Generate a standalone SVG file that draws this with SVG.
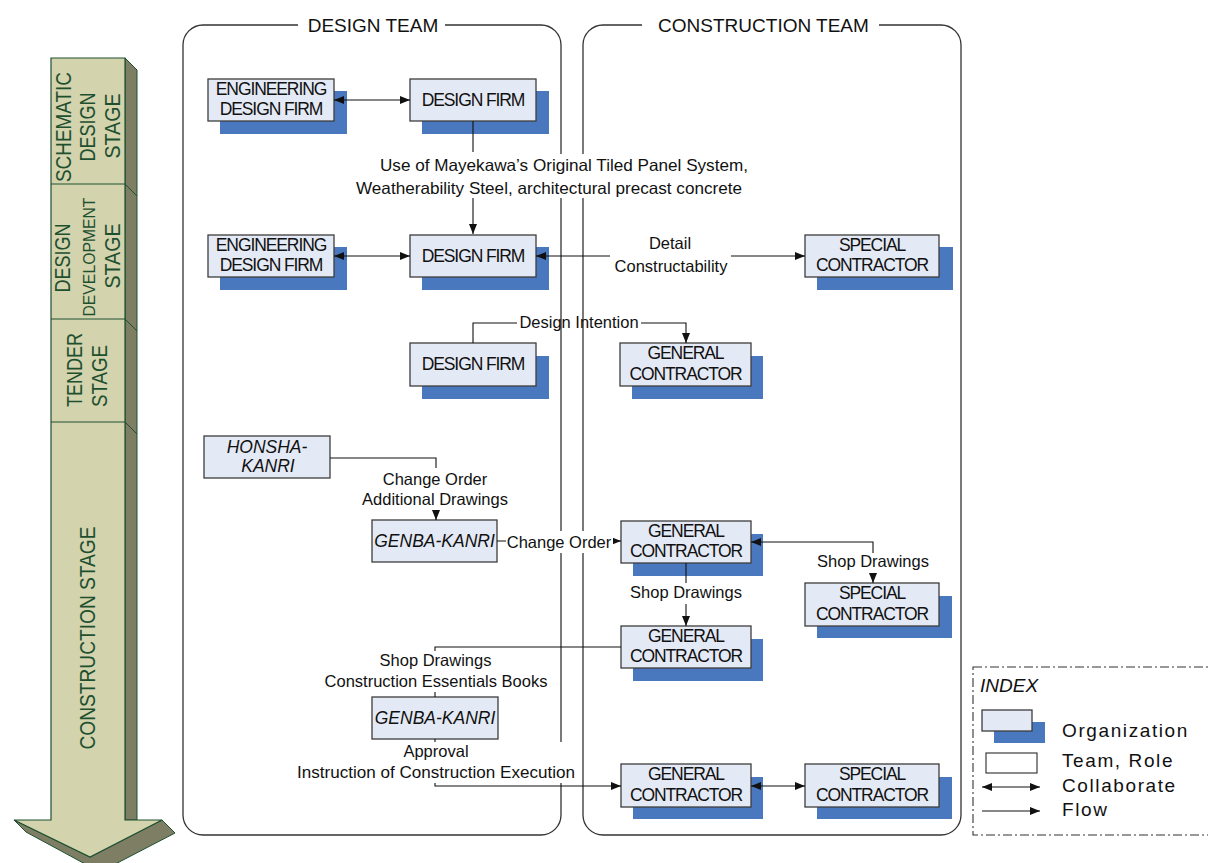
<svg xmlns="http://www.w3.org/2000/svg" width="1208" height="863" viewBox="0 0 1208 863">
<defs>
<style>
.front{fill:#e4eaf5;stroke:#3c3c3c;stroke-width:1.3}
.shadow{fill:#4a78bf}
.nt{font-family:"Liberation Sans",Arial,sans-serif;font-size:17.5px;letter-spacing:-1.1px;text-anchor:middle;fill:#111}
.it{font-style:italic;letter-spacing:0}
.lb{font-family:"Liberation Sans",Arial,sans-serif;font-size:16.5px;text-anchor:middle;fill:#111}
.team{fill:none;stroke:#333;stroke-width:1.3}
.tt{font-family:"Liberation Sans",Arial,sans-serif;font-size:19px;text-anchor:middle;fill:#111}
.con{fill:none;stroke:#111;stroke-width:1.1}
.bg{fill:#fff}
.st{font-family:"Liberation Sans",Arial,sans-serif;font-size:22px;fill:#1e5030;text-anchor:middle}
.ix{font-family:"Liberation Sans",Arial,sans-serif;font-size:19px;letter-spacing:1.6px;fill:#111}
</style>
<marker id="ah" viewBox="0 0 10 8" refX="10" refY="4" markerWidth="10" markerHeight="8" markerUnits="userSpaceOnUse" orient="auto-start-reverse">
<path d="M0,0 L10,4 L0,8 Z" fill="#111"/>
</marker>
</defs>
<rect width="1208" height="863" fill="#fff"/>

<g id="stage-arrow">
<path d="M125,58 L137,70 V820 H125 Z" fill="#7e7e64" stroke="#1e5030" stroke-width="1"/>
<path d="M14,820 L90,857 L162,820 L175,833 L100,872 L26,832 Z" fill="#7e7e64" stroke="#1e5030" stroke-width="1"/>
<path d="M51,58 H125 V820 H162 L90,857 L14,820 H51 Z" fill="#d3d3ad" stroke="#1e5030" stroke-width="1.2"/>
<path d="M51,184 H125 L137,196 M51,319 H125 L137,331 M51,422 H125 L137,434" fill="none" stroke="#1e5030" stroke-width="1"/>
<text class="st" transform="translate(71,127) rotate(-90)" textLength="110" lengthAdjust="spacingAndGlyphs">SCHEMATIC</text>
<text class="st" transform="translate(95,127) rotate(-90)" textLength="69" lengthAdjust="spacingAndGlyphs">DESIGN</text>
<text class="st" transform="translate(120,126) rotate(-90)" textLength="65" lengthAdjust="spacingAndGlyphs">STAGE</text>
<text class="st" transform="translate(70,258) rotate(-90)" textLength="69" lengthAdjust="spacingAndGlyphs">DESIGN</text>
<text class="st" style="font-size:17px" transform="translate(95,257) rotate(-90)" textLength="119" lengthAdjust="spacingAndGlyphs">DEVELOPMENT</text>
<text class="st" transform="translate(120,256) rotate(-90)" textLength="65" lengthAdjust="spacingAndGlyphs">STAGE</text>
<text class="st" transform="translate(82,370) rotate(-90)" textLength="74" lengthAdjust="spacingAndGlyphs">TENDER</text>
<text class="st" transform="translate(107,376) rotate(-90)" textLength="62" lengthAdjust="spacingAndGlyphs">STAGE</text>
<text class="st" transform="translate(95,638) rotate(-90)" textLength="223" lengthAdjust="spacingAndGlyphs">CONSTRUCTION STAGE</text>
</g>

<g id="design-team">
<path class="team" d="M298,25 H203 A20,20 0 0 0 183,45 V815 A20,20 0 0 0 203,835 H541 A20,20 0 0 0 561,815 V45 A20,20 0 0 0 541,25 H445"/>
<text class="tt" x="373" y="32">DESIGN TEAM</text>
</g>
<g id="construction-team">
<path class="team" d="M642,25 H603 A20,20 0 0 0 583,45 V815 A20,20 0 0 0 603,835 H941 A20,20 0 0 0 961,815 V45 A20,20 0 0 0 941,25 H879"/>
<text class="tt" x="763.5" y="32">CONSTRUCTION TEAM</text>
</g>

<g id="n-eng1"><rect class="shadow" x="220" y="91" width="127" height="43"/><rect class="front" x="208" y="79" width="126" height="42"/><text class="nt" x="271" y="95">ENGINEERING</text><text class="nt" x="271" y="115">DESIGN FIRM</text></g>
<g id="n-df1"><rect class="shadow" x="422" y="91" width="127" height="43"/><rect class="front" x="410" y="79" width="126" height="42"/><text class="nt" x="473" y="106">DESIGN FIRM</text></g>
<g id="n-eng2"><rect class="shadow" x="220" y="247" width="127" height="43"/><rect class="front" x="208" y="235" width="126" height="42"/><text class="nt" x="271" y="251">ENGINEERING</text><text class="nt" x="271" y="271">DESIGN FIRM</text></g>
<g id="n-df2"><rect class="shadow" x="422" y="247" width="127" height="43"/><rect class="front" x="410" y="235" width="126" height="42"/><text class="nt" x="473" y="262">DESIGN FIRM</text></g>
<g id="n-sc1"><rect class="shadow" x="817" y="247" width="136" height="43"/><rect class="front" x="805" y="235" width="134" height="42"/><text class="nt" x="872" y="251">SPECIAL</text><text class="nt" x="872" y="271">CONTRACTOR</text></g>
<g id="n-df3"><rect class="shadow" x="422" y="356" width="127" height="43"/><rect class="front" x="410" y="343" width="126" height="43"/><text class="nt" x="473" y="370">DESIGN FIRM</text></g>
<g id="n-gc1"><rect class="shadow" x="632" y="356" width="131" height="43"/><rect class="front" x="620" y="343" width="131" height="43"/><text class="nt" x="685.5" y="359">GENERAL</text><text class="nt" x="685.5" y="380">CONTRACTOR</text></g>
<g id="n-honsha"><rect class="front" x="204" y="436" width="126" height="42"/><text class="nt it" x="267" y="453">HONSHA-</text><text class="nt it" x="268" y="472">KANRI</text></g>
<g id="n-genba1"><rect class="front" x="372" y="520" width="125" height="42"/><text class="nt it" x="434.5" y="547">GENBA-KANRI</text></g>
<g id="n-gc2"><rect class="shadow" x="633" y="534" width="130" height="42"/><rect class="front" x="621" y="521" width="130" height="42"/><text class="nt" x="686" y="537">GENERAL</text><text class="nt" x="686" y="557">CONTRACTOR</text></g>
<g id="n-sc2"><rect class="shadow" x="817" y="596" width="135" height="42"/><rect class="front" x="805" y="583" width="134" height="43"/><text class="nt" x="872" y="599">SPECIAL</text><text class="nt" x="872" y="620">CONTRACTOR</text></g>
<g id="n-gc3"><rect class="shadow" x="633" y="639" width="130" height="42"/><rect class="front" x="621" y="626" width="130" height="42"/><text class="nt" x="686" y="642">GENERAL</text><text class="nt" x="686" y="662">CONTRACTOR</text></g>
<g id="n-genba2"><rect class="front" x="372" y="697" width="126" height="42"/><text class="nt it" x="435" y="724">GENBA-KANRI</text></g>
<g id="n-gc4"><rect class="shadow" x="633" y="777" width="130" height="42"/><rect class="front" x="621" y="764" width="130" height="43"/><text class="nt" x="686" y="780">GENERAL</text><text class="nt" x="686" y="801">CONTRACTOR</text></g>
<g id="n-sc3"><rect class="shadow" x="817" y="777" width="135" height="42"/><rect class="front" x="805" y="764" width="134" height="43"/><text class="nt" x="872" y="780">SPECIAL</text><text class="nt" x="872" y="801">CONTRACTOR</text></g>

<g id="connectors">
<path class="con" d="M334,100 H410" marker-start="url(#ah)" marker-end="url(#ah)"/>
<path class="con" d="M334,256 H410" marker-start="url(#ah)" marker-end="url(#ah)"/>
<path class="con" d="M473,121 V152"/>
<path class="con" d="M473,198 V234" marker-end="url(#ah)"/>
<path class="con" d="M610,256 H536" marker-end="url(#ah)"/>
<path class="con" d="M731,256 H805" marker-end="url(#ah)"/>
<path class="con" d="M473,343 V323 H517"/>
<path class="con" d="M641,323 H686 V343" marker-end="url(#ah)"/>
<path class="con" d="M330,458 H436 V468"/>
<path class="con" d="M436,510 V520" marker-end="url(#ah)"/>
<path class="con" d="M497,541 H621" marker-end="url(#ah)"/>
<path class="con" d="M873,583 V542 H751" marker-start="url(#ah)" marker-end="url(#ah)"/>
<path class="con" d="M686,563 V626" marker-end="url(#ah)"/>
<path class="con" d="M621,647 H435 V697"/>
<path class="con" d="M435,739 V786 H621" marker-end="url(#ah)"/>
<path class="con" d="M751,786 H805" marker-start="url(#ah)" marker-end="url(#ah)"/>
</g>

<g id="labels">
<rect class="bg" x="376" y="154" width="376" height="44"/>
<text class="lb" x="564" y="171" textLength="368" lengthAdjust="spacingAndGlyphs">Use of Mayekawa’s Original Tiled Panel System,</text>
<text class="lb" x="549" y="194" textLength="386" lengthAdjust="spacingAndGlyphs">Weatherability Steel, architectural precast concrete</text>
<text class="lb" x="670" y="249">Detail</text>
<text class="lb" x="671" y="272">Constructability</text>
<text class="lb" x="579" y="328">Design Intention</text>
<rect class="bg" x="358" y="469" width="155" height="40"/>
<text class="lb" x="435" y="485">Change Order</text>
<text class="lb" x="435" y="505">Additional Drawings</text>
<rect class="bg" x="506" y="531" width="107" height="22"/>
<text class="lb" x="559" y="548">Change Order</text>
<rect class="bg" x="814" y="553" width="118" height="20"/>
<text class="lb" x="873" y="567">Shop Drawings</text>
<rect class="bg" x="628" y="583" width="116" height="21"/>
<text class="lb" x="686" y="598">Shop Drawings</text>
<rect class="bg" x="318" y="651" width="236" height="41"/>
<text class="lb" x="435.5" y="666">Shop Drawings</text>
<text class="lb" x="436" y="687">Construction Essentials Books</text>
<rect class="bg" x="293" y="742" width="285" height="41"/>
<text class="lb" x="436" y="757">Approval</text>
<text class="lb" x="436" y="778" textLength="278" lengthAdjust="spacingAndGlyphs">Instruction of Construction Execution</text>
</g>

<g id="index">
<rect x="973" y="667" width="250" height="168" fill="none" stroke="#333" stroke-width="1.1" stroke-dasharray="9,3,2,3"/>
<text x="980" y="692" font-family="'Liberation Sans',Arial,sans-serif" font-size="19" font-style="italic" fill="#111">INDEX</text>
<rect class="shadow" x="994" y="722" width="51" height="21"/>
<rect class="front" x="982" y="710" width="50" height="21"/>
<text class="ix" x="1062" y="737">Organization</text>
<rect x="986" y="753" width="51" height="20" fill="#fff" stroke="#3c3c3c" stroke-width="1.2"/>
<text class="ix" x="1062" y="767">Team, Role</text>
<path class="con" d="M982,787 H1040" marker-start="url(#ah)" marker-end="url(#ah)"/>
<text class="ix" x="1062" y="792">Collaborate</text>
<path class="con" d="M982,811 H1040" marker-end="url(#ah)"/>
<text class="ix" x="1062" y="816">Flow</text>
</g>
</svg>
